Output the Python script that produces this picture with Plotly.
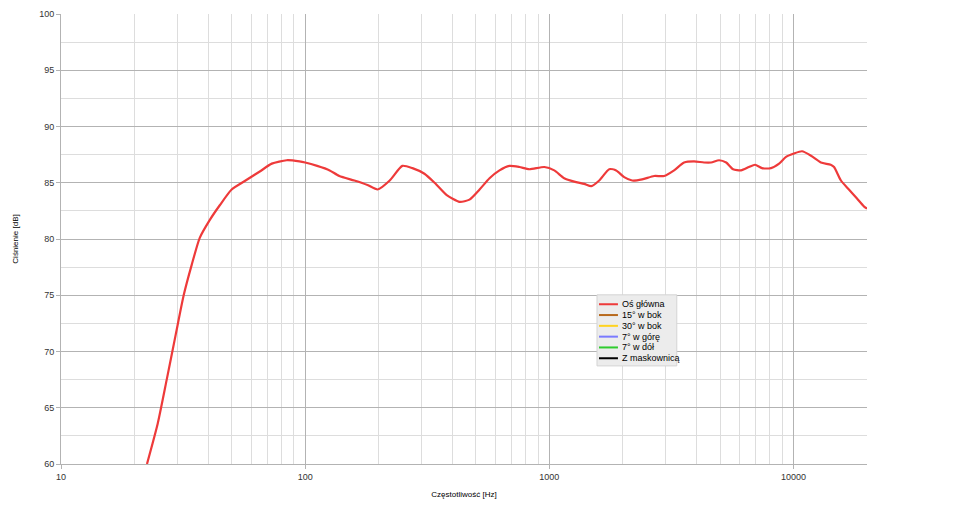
import plotly.graph_objects as go

# ---------------------------------------------------------------------------
# Data (frequency response, main axis)
# ---------------------------------------------------------------------------
freq_hz = [
    22.5, 24.9, 27.1, 29.5, 31.8, 34.3, 37.0, 40.7, 44.7, 50.0, 57.0, 65.2,
    73.0, 84.0, 94.8, 100, 112, 126, 138, 159, 180, 198, 222, 250, 275, 308,
    339, 380, 429, 471, 518, 569, 625, 686, 754, 828, 954, 1048, 1151, 1265,
    1390, 1485, 1601, 1759, 1878, 2026, 2184, 2400, 2686, 2952, 3243, 3563,
    3915, 4302, 4599, 4957, 5300, 5660, 6100, 6570, 6960, 7430, 8090, 8730,
    9320, 10040, 10840, 11800, 12950, 14200, 14660, 15640, 16860, 18200,
    19420, 20000,
]
spl_main = [
    60.0, 63.6, 67.5, 71.5, 75.0, 77.7, 80.1, 81.7, 83.0, 84.4, 85.2, 86.0,
    86.7, 87.0, 86.9, 86.8, 86.5, 86.1, 85.6, 85.2, 84.8, 84.4, 85.2, 86.5,
    86.3, 85.8, 85.0, 83.9, 83.3, 83.5, 84.4, 85.4, 86.1, 86.5, 86.4, 86.2,
    86.4, 86.1, 85.4, 85.1, 84.9, 84.7, 85.2, 86.2, 86.1, 85.5, 85.2, 85.3,
    85.6, 85.6, 86.1, 86.8, 86.9, 86.8, 86.8, 87.0, 86.8, 86.2, 86.1, 86.4,
    86.6, 86.3, 86.3, 86.7, 87.3, 87.6, 87.8, 87.4, 86.8, 86.6, 86.4, 85.2,
    84.4, 83.6, 82.9, 82.7,
]

# the remaining measurements appear only in the legend (no data visible)
series_names = ["Oś główna", "15° w bok", "30° w bok", "7° w górę", "7° w dół", "Z maskownicą"]
series_colors = ["#ee3a3a", "#b8691c", "#ffd320", "#7a7aff", "#2ecc2e", "#000000"]

x_ticks = [10, 100, 1000, 10000]
x_minor = [m * 10 ** d for d in range(1, 5) for m in range(2, 10) if m * 10 ** d <= 20000]
y_ticks = [60, 65, 70, 75, 80, 85, 90, 95, 100]

fig = go.Figure()
fig.add_trace(go.Scatter(
    x=freq_hz,
    y=spl_main,
    mode="lines",
    name=series_names[0],
    line=dict(color=series_colors[0], width=2.2, shape="spline", smoothing=0.6),
))

# ---------------------------------------------------------------------------
# Compact legend box (plotly's own legend rows are too tall for this look)
# ---------------------------------------------------------------------------
LEG_X0, LEG_X1 = 0.665, 0.764
LEG_Y0, LEG_Y1 = 0.218, 0.376
ROW_TOP, ROW_STEP = 0.355, 0.024
shapes = [dict(type="rect", xref="paper", yref="paper",
               x0=LEG_X0, x1=LEG_X1, y0=LEG_Y0, y1=LEG_Y1,
               fillcolor="#ececec", line=dict(color="#d4d4d4", width=1), layer="above")]
annotations = []
for i, (name, color) in enumerate(zip(series_names, series_colors)):
    yy = ROW_TOP - i * ROW_STEP
    shapes.append(dict(type="line", xref="paper", yref="paper",
                       x0=0.6675, x1=0.691, y0=yy, y1=yy,
                       line=dict(color=color, width=2), layer="above"))
    annotations.append(dict(xref="paper", yref="paper", x=0.694, y=yy,
                            xanchor="left", yanchor="middle", showarrow=False,
                            text=name, font=dict(size=9, color="#000000")))

# page body has an 8px margin, so the figure is sized to fit inside it
fig.update_layout(
    width=954,
    height=495,
    paper_bgcolor="white",
    plot_bgcolor="white",
    margin=dict(l=53, r=95, t=6, b=39),
    font=dict(family="Liberation Sans, Arial, sans-serif", size=9, color="#333333"),
    showlegend=False,
    shapes=shapes,
    annotations=annotations,
    xaxis=dict(
        type="log",
        range=[1, 4.30103],
        tickvals=x_ticks,
        ticktext=[str(v) for v in x_ticks],
        showgrid=True, gridcolor="#b3b3b3", gridwidth=1,
        minor=dict(tickvals=x_minor, showgrid=True, gridcolor="#dddddd", ticks=""),
        showline=True, linecolor="#b3b3b3",
        ticks="outside", ticklen=4, tickcolor="#b3b3b3",
        zeroline=False,
        automargin=False,
        title=dict(text="Częstotliwość [Hz]", font=dict(size=8, color="#000000"), standoff=10),
    ),
    yaxis=dict(
        range=[60, 100],
        tickvals=y_ticks,
        showgrid=True, gridcolor="#b3b3b3", gridwidth=1,
        minor=dict(dtick=2.5, showgrid=True, gridcolor="#dddddd", ticks=""),
        showline=True, linecolor="#b3b3b3",
        ticks="outside", ticklen=4, tickcolor="#b3b3b3",
        zeroline=False,
        automargin=False,
        title=dict(text="Ciśnienie [dB]", font=dict(size=8, color="#000000"), standoff=19),
    ),
)

fig.write_html("out.html")
